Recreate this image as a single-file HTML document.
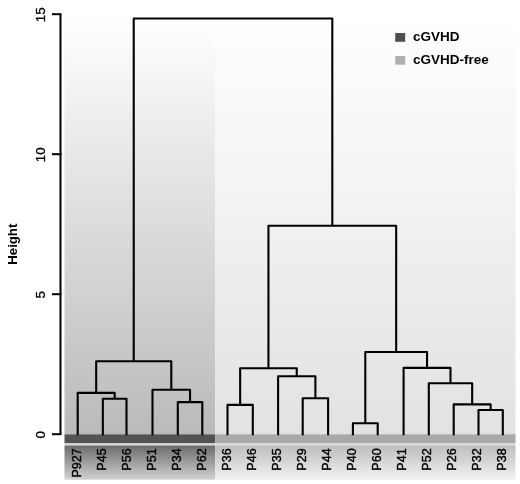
<!DOCTYPE html>
<html><head><meta charset="utf-8"><style>
html,body{margin:0;padding:0;background:#fff;width:520px;height:484px;overflow:hidden;font-family:"Liberation Sans",sans-serif;}
svg{display:block;filter:grayscale(1);}
</style></head><body>
<svg width="520" height="484" viewBox="0 0 520 484">
<defs>
<linearGradient id="gL" x1="0" y1="0" x2="0" y2="1">
<stop offset="0" stop-color="#ffffff"/><stop offset="0.5" stop-color="#dcdcdc"/><stop offset="1" stop-color="#bababa"/></linearGradient>
<linearGradient id="gR" x1="0" y1="0" x2="0" y2="1">
<stop offset="0" stop-color="#ffffff"/><stop offset="1" stop-color="#e2e2e2"/></linearGradient>
<linearGradient id="lL" x1="0" y1="0" x2="0" y2="1">
<stop offset="0" stop-color="#6c6c6c"/><stop offset="1" stop-color="#d2d2d2"/></linearGradient>
<linearGradient id="lR" x1="0" y1="0" x2="0" y2="1">
<stop offset="0" stop-color="#bdbdbd"/><stop offset="1" stop-color="#f2f2f2"/></linearGradient>
</defs>
<rect x="0" y="0" width="520" height="484" fill="#ffffff"/>
<rect x="64.5" y="15.7" width="150.80" height="418.60" fill="url(#gL)"/>
<rect x="215.3" y="15.7" width="300.20" height="418.60" fill="url(#gR)"/>
<rect x="64.5" y="434.3" width="150.80" height="9.10" fill="#535353"/>
<rect x="215.3" y="434.3" width="300.20" height="9.10" fill="#a9a9a9"/>
<rect x="64.5" y="443.4" width="451.0" height="2.10" fill="#d8d8d8"/>
<rect x="64.5" y="445.5" width="150.80" height="34.20" fill="url(#lL)"/>
<rect x="215.3" y="445.5" width="300.20" height="34.20" fill="url(#lR)"/>
<path d="M60.5,434.20V14.20" stroke="#000" stroke-width="2" fill="none"/><path d="M52,434.20H61.5" stroke="#000" stroke-width="2" fill="none"/><text transform="translate(45.4,434.80) rotate(-90)" text-anchor="middle" font-family="Liberation Sans" font-size="13.4" fill="#000" stroke="#000" stroke-width="0.3">0</text><path d="M52,294.20H61.5" stroke="#000" stroke-width="2" fill="none"/><text transform="translate(45.4,294.80) rotate(-90)" text-anchor="middle" font-family="Liberation Sans" font-size="13.4" fill="#000" stroke="#000" stroke-width="0.3">5</text><path d="M52,154.20H61.5" stroke="#000" stroke-width="2" fill="none"/><text transform="translate(45.4,154.80) rotate(-90)" text-anchor="middle" font-family="Liberation Sans" font-size="13.4" fill="#000" stroke="#000" stroke-width="0.3">10</text><path d="M52,14.20H61.5" stroke="#000" stroke-width="2" fill="none"/><text transform="translate(45.4,14.80) rotate(-90)" text-anchor="middle" font-family="Liberation Sans" font-size="13.4" fill="#000" stroke="#000" stroke-width="0.3">15</text><text transform="translate(16.7,244.2) rotate(-90)" text-anchor="middle" font-family="Liberation Sans" font-weight="bold" font-size="13.2" fill="#000">Height</text><path d="M102.85,434.20V398.70H126.50V434.20M77.70,434.20V392.90H114.67V398.70M177.80,434.20V402.10H202.30V434.20M152.50,434.20V389.80H190.05V402.10M96.19,392.90V361.30H171.28V389.80M227.50,434.20V404.90H252.80V434.20M302.70,434.20V398.30H328.10V434.20M278.10,434.20V376.30H315.40V398.30M240.15,404.90V368.30H296.75V376.30M352.90,434.20V423.20H377.70V434.20M478.50,434.20V410.00H502.80V434.20M453.70,434.20V404.40H490.65V410.00M428.80,434.20V383.30H472.17V404.40M403.60,434.20V367.90H450.49V383.30M365.30,423.20V352.00H427.04V367.90M268.45,368.30V225.80H396.17V352.00M133.73,361.30V18.50H332.31V225.80" stroke="#000" stroke-width="2.1" fill="none" stroke-linejoin="round" stroke-linecap="square"/><text transform="translate(80.60,448.4) rotate(-90)" text-anchor="end" font-family="Liberation Sans" font-size="12.5" fill="#000" stroke="#000" stroke-width="0.4">P927</text><text transform="translate(105.65,448.4) rotate(-90)" text-anchor="end" font-family="Liberation Sans" font-size="12.5" fill="#000" stroke="#000" stroke-width="0.4">P45</text><text transform="translate(130.70,448.4) rotate(-90)" text-anchor="end" font-family="Liberation Sans" font-size="12.5" fill="#000" stroke="#000" stroke-width="0.4">P56</text><text transform="translate(155.75,448.4) rotate(-90)" text-anchor="end" font-family="Liberation Sans" font-size="12.5" fill="#000" stroke="#000" stroke-width="0.4">P51</text><text transform="translate(180.80,448.4) rotate(-90)" text-anchor="end" font-family="Liberation Sans" font-size="12.5" fill="#000" stroke="#000" stroke-width="0.4">P34</text><text transform="translate(205.85,448.4) rotate(-90)" text-anchor="end" font-family="Liberation Sans" font-size="12.5" fill="#000" stroke="#000" stroke-width="0.4">P62</text><text transform="translate(230.90,448.4) rotate(-90)" text-anchor="end" font-family="Liberation Sans" font-size="12.5" fill="#000" stroke="#000" stroke-width="0.4">P36</text><text transform="translate(255.95,448.4) rotate(-90)" text-anchor="end" font-family="Liberation Sans" font-size="12.5" fill="#000" stroke="#000" stroke-width="0.4">P46</text><text transform="translate(281.00,448.4) rotate(-90)" text-anchor="end" font-family="Liberation Sans" font-size="12.5" fill="#000" stroke="#000" stroke-width="0.4">P35</text><text transform="translate(306.05,448.4) rotate(-90)" text-anchor="end" font-family="Liberation Sans" font-size="12.5" fill="#000" stroke="#000" stroke-width="0.4">P29</text><text transform="translate(331.10,448.4) rotate(-90)" text-anchor="end" font-family="Liberation Sans" font-size="12.5" fill="#000" stroke="#000" stroke-width="0.4">P44</text><text transform="translate(356.15,448.4) rotate(-90)" text-anchor="end" font-family="Liberation Sans" font-size="12.5" fill="#000" stroke="#000" stroke-width="0.4">P40</text><text transform="translate(381.20,448.4) rotate(-90)" text-anchor="end" font-family="Liberation Sans" font-size="12.5" fill="#000" stroke="#000" stroke-width="0.4">P60</text><text transform="translate(406.25,448.4) rotate(-90)" text-anchor="end" font-family="Liberation Sans" font-size="12.5" fill="#000" stroke="#000" stroke-width="0.4">P41</text><text transform="translate(431.30,448.4) rotate(-90)" text-anchor="end" font-family="Liberation Sans" font-size="12.5" fill="#000" stroke="#000" stroke-width="0.4">P52</text><text transform="translate(456.35,448.4) rotate(-90)" text-anchor="end" font-family="Liberation Sans" font-size="12.5" fill="#000" stroke="#000" stroke-width="0.4">P26</text><text transform="translate(481.40,448.4) rotate(-90)" text-anchor="end" font-family="Liberation Sans" font-size="12.5" fill="#000" stroke="#000" stroke-width="0.4">P32</text><text transform="translate(506.45,448.4) rotate(-90)" text-anchor="end" font-family="Liberation Sans" font-size="12.5" fill="#000" stroke="#000" stroke-width="0.4">P38</text><rect x="395.2" y="33" width="10" height="8.8" fill="#4e4e4e"/><rect x="395.2" y="55.9" width="10" height="8.8" fill="#b0b0b0"/><text x="413" y="41.3" font-family="Liberation Sans" font-weight="bold" font-size="13.5" fill="#000">cGVHD</text><text x="413" y="63.9" font-family="Liberation Sans" font-weight="bold" font-size="13.5" fill="#000">cGVHD-free</text></svg>
</body></html>
